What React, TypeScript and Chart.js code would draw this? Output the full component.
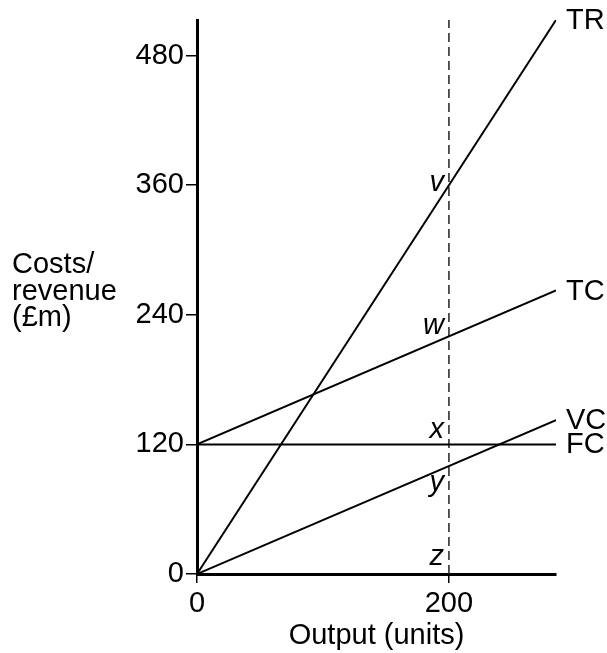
import React, { useEffect, useRef } from 'react';
import { Chart, registerables } from 'chart.js';

Chart.register(...registerables);

// ---- data ----
const outputUnits = [0, 285];
const totalRevenue = [0, 513];
const totalCost = [120, 262.5];
const variableCost = [0, 142.5];
const fixedCost = [120, 120];
const markerOutput = [200, 200];
const markerRange = [0, 513];
const seriesNames = ['TR', 'TC', 'VC', 'FC'];
const yTicks = [0, 120, 240, 360, 480];
const xTicks = [0, 200];
const pointLetters = ['v', 'w', 'x', 'y', 'z'];
const pointValues = [360, 220, 120, 100, 0];
const yTitleLines = ['Costs/', 'revenue', '(£m)'];
const xTitle = 'Output (units)';

const FONT = '"Liberation Sans", Arial, sans-serif';
const FS = 29;

// baseline offsets (px) of the point letters relative to their value
const letterOffsets = [6, -2, -6, 25, -9];

const labelsPlugin = {
  id: 'labelsPlugin',
  afterDatasetsDraw(chart: any) {
    const { ctx, scales } = chart;
    const xs = scales.x;
    const ys = scales.y;
    ctx.save();
    ctx.fillStyle = '#000';
    // series end labels
    ctx.font = `${FS}px ${FONT}`;
    ctx.textAlign = 'left';
    ctx.textBaseline = 'middle';
    for (let i = 0; i < seriesNames.length; i++) {
      const ds = chart.data.datasets[i];
      const last = ds.data[ds.data.length - 1];
      ctx.fillText(seriesNames[i], xs.getPixelForValue(last.x) + 10, ys.getPixelForValue(last.y) + 1);
    }
    // point letters
    ctx.font = `italic ${FS}px ${FONT}`;
    ctx.textAlign = 'right';
    ctx.textBaseline = 'alphabetic';
    const px = xs.getPixelForValue(markerOutput[0]);
    for (let i = 0; i < pointLetters.length; i++) {
      ctx.fillText(pointLetters[i], px - 5, ys.getPixelForValue(pointValues[i]) + letterOffsets[i]);
    }
    // y axis title
    ctx.font = `${FS}px ${FONT}`;
    ctx.textAlign = 'left';
    for (let i = 0; i < yTitleLines.length; i++) {
      ctx.fillText(yTitleLines[i], 12, 273 + i * 26.5);
    }
    ctx.restore();
  },
};

export default function App() {
  const ref = useRef<HTMLCanvasElement | null>(null);
  useEffect(() => {
    if (!ref.current) return;
    const mk = (ys: number[]) => outputUnits.map((x, i) => ({ x, y: ys[i] }));
    const lineStyle = { borderColor: '#000', borderWidth: 2, pointRadius: 0, fill: false, tension: 0 };
    const chart = new Chart(ref.current, {
      type: 'line',
      data: {
        datasets: [
          { label: seriesNames[0], data: mk(totalRevenue), ...lineStyle },
          { label: seriesNames[1], data: mk(totalCost), ...lineStyle },
          { label: seriesNames[2], data: mk(variableCost), ...lineStyle },
          { label: seriesNames[3], data: mk(fixedCost), ...lineStyle },
          {
            label: 'marker',
            data: markerOutput.map((x, i) => ({ x, y: markerRange[i] })),
            borderColor: '#222',
            borderWidth: 1.5,
            borderDash: [9, 5],
            pointRadius: 0,
            fill: false,
          },
        ],
      },
      options: {
        responsive: false,
        animation: false,
        layout: { padding: { left: 0, right: 51, top: 20, bottom: 0 } },
        plugins: { legend: { display: false }, tooltip: { enabled: false } },
        scales: {
          x: {
            type: 'linear',
            min: 0,
            max: 285,
            afterBuildTicks: (s: any) => { s.ticks = xTicks.map((v) => ({ value: v })); },
            afterFit: (s: any) => { s.height = 79; },
            grid: { drawOnChartArea: false, drawTicks: true, tickLength: 9, color: '#000', lineWidth: 1.5 },
            border: { display: true, color: '#000', width: 3 },
            ticks: { color: '#000', font: { family: FONT, size: FS }, padding: 4, maxRotation: 0, autoSkip: false },
            title: { display: true, text: xTitle, color: '#000', font: { family: FONT, size: FS }, padding: { top: 0, bottom: 0 } },
          },
          y: {
            type: 'linear',
            min: 0,
            max: 513,
            afterBuildTicks: (s: any) => { s.ticks = yTicks.map((v) => ({ value: v })); },
            afterFit: (s: any) => { s.width = 197; },
            grid: { drawOnChartArea: false, drawTicks: true, tickLength: 11, color: '#000', lineWidth: 1.5 },
            border: { display: true, color: '#000', width: 3 },
            ticks: { color: '#000', font: { family: FONT, size: FS }, padding: 2, autoSkip: false },
          },
        },
      },
      plugins: [labelsPlugin],
    });
    return () => chart.destroy();
  }, []);
  return (
    <div style={{ position: 'absolute', left: 0, top: 0, width: 607, height: 653, background: '#fff' }}>
      <canvas ref={ref} width={607} height={653} style={{ width: 607, height: 653 }} />
    </div>
  );
}
